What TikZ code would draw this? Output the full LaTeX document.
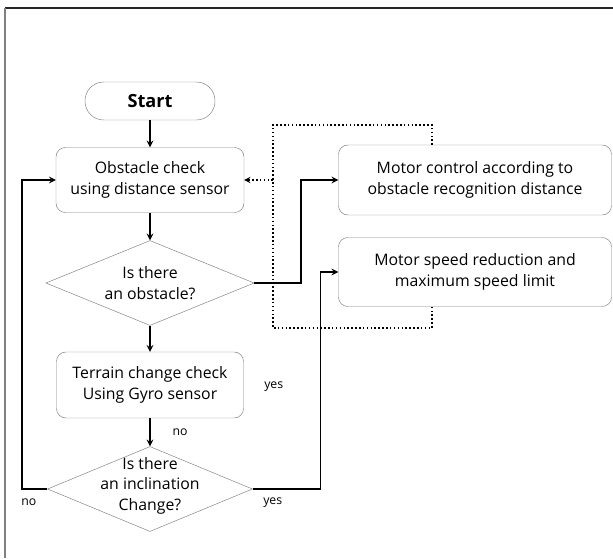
\documentclass[tikz,border=0pt]{standalone}
\usepackage{fontspec}
\setmainfont{Open Sans}
\usepackage{tikz}
\usetikzlibrary{positioning, calc, arrows, shapes.geometric}

\tikzset{
  terminal/.style={draw=gray, rounded corners=16pt, minimum width=3.9cm, minimum height=1.14cm, font=\fontsize{15.5}{18}\selectfont\bfseries},
  process/.style={draw=gray, fill=white, rounded corners=8pt, align=center, font=\fontsize{13.5}{17.5}\selectfont},
  decision/.style={draw=gray, diamond, inner sep=0pt, minimum width=6.25cm, minimum height=2.55cm},
  dectext/.style={align=center, font=\fontsize{13.5}{17.5}\selectfont},
  flow/.style={->, >=stealth, line width=1.5pt},
  answer/.style={font=\fontsize{10.5}{12}\selectfont}
}

\begin{document}
\begin{tikzpicture}

  \useasboundingbox (0,0) rectangle (18.39,-16.74);

  % frame
  \draw[line width=1.2pt, black!85] (0.15,-0.24) -- (18.39,-0.24);
  \draw[line width=1.2pt, gray] (0.15,-0.24) -- (0.15,-16.74);

  % main column

  \node[terminal] (start) at (4.5,-3.03) {Start};
  \node[process, minimum width=5.64cm, minimum height=1.95cm] (obst) at ($(start)+(0,-2.37)$) {Obstacle check\\using distance sensor};
  \node[decision] (dia1) at ($(obst)+(0,-3.09)$) {};
  \node[dectext] (dia1txt) at (dia1) {Is there\\an obstacle?};
  \node[process, minimum width=5.61cm, minimum height=1.98cm] (terrain) at ($(dia1)+(0,-3.06)$) {Terrain change check\\Using Gyro sensor};
  \node[decision, minimum width=6.15cm] (dia2) at ($(terrain)+(0,-3.12)$) {};
  \node[dectext] (dia2txt) at ($(dia2)+(0,0.1)$) {Is there\\an inclination\\Change?};

  % motor boxes (dotted frame behind them)

  \coordinate (dtl) at (8.19,-3.75);
  \coordinate (dbr) at (12.96,-9.84);

  \node[process, minimum width=8.19cm, minimum height=2.1cm] (box1) at ($(obst)+(9.75,0)$) {Motor control according to\\obstacle recognition distance};
  \node[process, minimum width=8.19cm, minimum height=2.07cm] (box2) at ($(box1)+(0,-2.76)$) {Motor speed reduction and\\maximum speed limit};

  \draw[dotted, line width=1.3pt] (box1.north -| dbr) -- (dtl -| dbr) -- (dtl) -- (dtl |- dbr) -- (dbr) -- (box2.south -| dbr);
  \draw[dotted, line width=1.3pt, ->, >=stealth] (dtl |- obst.east) -- (obst.east);

  % connectors

  \draw[flow] (start.south) -- (obst.north);
  \draw[flow] (obst.south) -- (dia1.north);
  \draw[flow] (dia1.south) -- (terrain.north);
  \draw[flow] (terrain.south) -- (dia2.north);

  \draw[flow] (dia2.west) -- ($(dia2.west)+(-0.75,0)$) |- (obst.west);
  \draw[flow] (dia2.east) -- ($(dia2.east)+(2.03,0)$) |- (box2.west);
  \draw[flow] (dia1.east) -- ($(dia1.east)+(1.4,0)$) |- (box1.west);

  % answers

  \node[answer] (no1) at ($(terrain.south)+(0.9,-0.42)$) {no};
  \node[answer] (yes1) at ($(terrain.east)+(0.9,-0.05)$) {yes};
  \node[answer] (no2) at ($(dia2.west)+(-0.55,-0.4)$) {no};
  \node[answer] (yes2) at ($(dia2.east)+(0.6,-0.4)$) {yes};

\end{tikzpicture}
\end{document}
